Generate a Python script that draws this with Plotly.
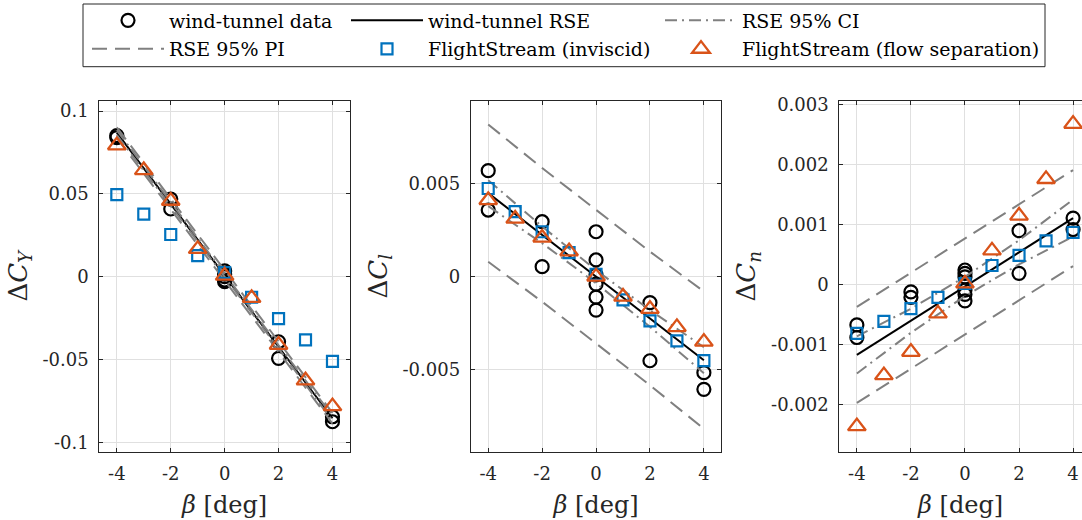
import plotly.graph_objects as go

# ---------------- data ----------------
beta_ticks = [-4, -2, 0, 2, 4]
beta_ticktext = ["-4", "-2", "0", "2", "4"]

# FlightStream sweep
beta_fs = [-4, -3, -2, -1, 0, 1, 2, 3, 4]
# regression curves (RSE, confidence and prediction bands)
beta_rse = [-4, 4]
beta_band = [-4, -2, 0, 2, 4]

# --- side force coefficient ---
wt_beta_cy = [-4, -4, -2, -2, 0, 0, 0, 0, 0, 2, 2, 4, 4]
wt_cy = [0.0852, 0.0840, 0.0469, 0.0409, 0.0035, 0.0015, 0.0, -0.0020, -0.0030,
         -0.0393, -0.0493, -0.0846, -0.0876]
fs_inv_cy = [0.0496, 0.0378, 0.0255, 0.0127, 0.0024, -0.0124, -0.0253, -0.0382, -0.0512]
fs_sep_cy = [0.0793, 0.0643, 0.0458, 0.0167, 0.0006, -0.0129, -0.0412, -0.0627, -0.0783]
rse_cy = [0.0870, -0.0855]
ci_up_cy = [0.0885, 0.0449, 0.0016, -0.0414, -0.0840]
ci_lo_cy = [0.0855, 0.0429, -0.0001, -0.0434, -0.0870]
pi_up_cy = [0.0902, 0.0469, 0.0038, -0.0394, -0.0823]
pi_lo_cy = [0.0838, 0.0409, -0.0023, -0.0454, -0.0887]
ticks_cy = [-0.1, -0.05, 0, 0.05, 0.1]
ticktext_cy = ["-0.1", "-0.05", "0", "0.05", "0.1"]

# --- rolling moment coefficient ---
wt_beta_cl = [-4, -4, -2, -2, 0, 0, 0, 0, 0, 0, 2, 2, 4, 4]
wt_cl = [0.00571, 0.00359, 0.00296, 0.00054, 0.00242, 0.0009, 0.0001, -0.0004,
         -0.0011, -0.0018, -0.0014, -0.00453, -0.00517, -0.00607]
fs_inv_cl = [0.00475, 0.0035, 0.00242, 0.00129, 0.00013, -0.00125, -0.00238, -0.00346, -0.00452]
fs_sep_cl = [0.00412, 0.00312, 0.0021, 0.00136, 0.0, -0.00108, -0.00174, -0.00272, -0.00351]
rse_cl = [0.0045, -0.0045]
ci_up_cl = [0.0052, 0.0027, 0.00035, -0.0018, -0.0038]
ci_lo_cl = [0.0038, 0.0018, -0.00035, -0.0027, -0.0052]
pi_up_cl = [0.0082, 0.00585, 0.0036, 0.00135, -0.0008]
pi_lo_cl = [0.0008, -0.00135, -0.0036, -0.00585, -0.0082]
ticks_cl = [-0.005, 0, 0.005]
ticktext_cl = ["-0.005", "0", "0.005"]

# --- yawing moment coefficient ---
wt_beta_cn = [-4, -4, -2, -2, 0, 0, 0, 0, 0, 0, 2, 2, 4, 4]
wt_cn = [-0.00067, -0.00088, -0.00012, -0.00021, 0.000245, 0.00019, 0.00013, -0.00009,
         -0.00016, -0.00027, 0.0009, 0.00019, 0.00111, 0.00092]
fs_inv_cn = [-0.00081, -0.00061, -0.0004, -0.00021, 0.00002, 0.00032, 0.00049, 0.00073, 0.00087]
fs_sep_cn = [-0.00236, -0.00151, -0.00112, -0.00048, 0.00002, 0.00057, 0.00115, 0.00176, 0.00268]
rse_cn = [-0.00117, 0.00111]
ci_up_cn = [-0.00086, -0.0004, 0.00013, 0.00074, 0.00142]
ci_lo_cn = [-0.00148, -0.0008, -0.00019, 0.00034, 0.0008]
pi_up_cn = [-0.00037, 0.0002, 0.00077, 0.00134, 0.00191]
pi_lo_cn = [-0.00197, -0.0014, -0.00083, -0.00026, 0.00031]
ticks_cn = [-0.002, -0.001, 0, 0.001, 0.002, 0.003]
ticktext_cn = ["-0.002", "-0.001", "0", "0.001", "0.002", "0.003"]

# ---------------- styling ----------------
W, H = 1082, 520
SERIF = "DejaVu Serif"
AX = "#262626"
GRID = "#e0e0e0"
GRAY = "#808080"
BLUE = "#0072BD"
ORANGE = "#D95319"
PI_DASH = "15px,8px"
CI_DASH = "12px,5px,2px,5px"

fig = go.Figure()

panels = [
    dict(wb=wt_beta_cy, wt=wt_cy, inv=fs_inv_cy, sep=fs_sep_cy, rse=rse_cy,
         ciu=ci_up_cy, cil=ci_lo_cy, piu=pi_up_cy, pil=pi_lo_cy),
    dict(wb=wt_beta_cl, wt=wt_cl, inv=fs_inv_cl, sep=fs_sep_cl, rse=rse_cl,
         ciu=ci_up_cl, cil=ci_lo_cl, piu=pi_up_cl, pil=pi_lo_cl),
    dict(wb=wt_beta_cn, wt=wt_cn, inv=fs_inv_cn, sep=fs_sep_cn, rse=rse_cn,
         ciu=ci_up_cn, cil=ci_lo_cn, piu=pi_up_cn, pil=pi_lo_cn),
]

for i, p in enumerate(panels):
    xa = "x" if i == 0 else f"x{i+1}"
    ya = "y" if i == 0 else f"y{i+1}"
    first = i == 0
    fig.add_trace(go.Scatter(
        x=p["wb"], y=p["wt"], mode="markers", name="wind-tunnel data",
        marker=dict(symbol="circle-open", size=13, color="black", line=dict(width=2.2)),
        xaxis=xa, yaxis=ya, showlegend=first, legend="legend"))
    fig.add_trace(go.Scatter(
        x=beta_rse, y=p["rse"], mode="lines", name="wind-tunnel RSE",
        line=dict(color="black", width=2),
        xaxis=xa, yaxis=ya, showlegend=first, legend="legend2"))
    for k, key in enumerate(["ciu", "cil"]):
        fig.add_trace(go.Scatter(
            x=beta_band, y=p[key], mode="lines", name="RSE 95% CI",
            line=dict(color=GRAY, width=2, dash=CI_DASH),
            xaxis=xa, yaxis=ya, showlegend=first and k == 0, legend="legend3"))
    for k, key in enumerate(["piu", "pil"]):
        fig.add_trace(go.Scatter(
            x=beta_band, y=p[key], mode="lines", name="RSE 95% PI",
            line=dict(color=GRAY, width=2, dash=PI_DASH),
            xaxis=xa, yaxis=ya, showlegend=first and k == 0, legend="legend4"))
    fig.add_trace(go.Scatter(
        x=beta_fs, y=p["inv"], mode="markers", name="FlightStream (inviscid)",
        marker=dict(symbol="square-open", size=11, color=BLUE, line=dict(width=2.2)),
        xaxis=xa, yaxis=ya, showlegend=first, legend="legend5"))
    fig.add_trace(go.Scatter(
        x=beta_fs, y=p["sep"], mode="markers", name="FlightStream (flow separation)",
        marker=dict(symbol="triangle-up-open", size=15.5, color=ORANGE, line=dict(width=2.3)),
        xaxis=xa, yaxis=ya, showlegend=first, legend="legend6"))

# ---------------- axes ----------------
def px_x(v):
    return v / W

def px_y(v):
    return 1 - v / H

ydom = [px_y(451.7), px_y(100.7)]
xdoms = [[px_x(99.3), px_x(350.0)], [px_x(470.7), px_x(721.4)], [px_x(839.3), 1.0]]
xranges = [[-4.65, 4.65], [-4.65, 4.65], [-4.65, 4.33]]
yranges = [[-0.1057, 0.1063], [-0.00943, 0.00948], [-0.002783, 0.003067]]
yticks = [(ticks_cy, ticktext_cy), (ticks_cl, ticktext_cl), (ticks_cn, ticktext_cn)]
ytitles = ["Δ<i>C</i><sub><i>Y</i></sub>", "Δ<i>C</i><sub><i>l</i></sub>", "Δ<i>C</i><sub><i>n</i></sub>"]

common = dict(showgrid=True, gridcolor=GRID, gridwidth=1, zeroline=False,
              showline=True, linecolor=AX, linewidth=1, ticks="inside", ticklen=4,
              tickcolor=AX, tickfont=dict(family=SERIF, size=18, color=AX),
              automargin=False)

for i in range(3):
    sx = "" if i == 0 else str(i + 1)
    fig.layout["xaxis" + sx] = dict(
        common, domain=xdoms[i], range=xranges[i], anchor="y" + sx,
        tickmode="array", tickvals=beta_ticks, ticktext=beta_ticktext,
        mirror="ticks", ticklabelstandoff=6,
        title=dict(text="<i>β</i> [deg]", font=dict(family=SERIF, size=24, color=AX),
                   standoff=12))
    fig.layout["yaxis" + sx] = dict(
        common, domain=ydom, range=yranges[i], anchor="x" + sx,
        tickmode="array", tickvals=yticks[i][0], ticktext=yticks[i][1],
        mirror="ticks" if i < 2 else False, ticklabelstandoff=6,
        title=dict(text=ytitles[i], font=dict(family=SERIF, size=26, color=AX),
                   standoff=7))

# ---------------- legend ----------------
legend_pos = {
    "legend": (87, 20.5), "legend2": (346, 20.5), "legend3": (660, 20.5),
    "legend4": (87, 49), "legend5": (346, 49), "legend6": (660, 49),
}
for name, (lx, ly) in legend_pos.items():
    fig.layout[name] = dict(
        x=px_x(lx), y=px_y(ly), xanchor="left", yanchor="middle",
        bgcolor="rgba(0,0,0,0)", borderwidth=0, itemwidth=72,
        font=dict(family=SERIF, size=19, color="black"))

fig.add_shape(type="rect", xref="paper", yref="paper",
              x0=px_x(83), x1=px_x(1045), y0=px_y(66.7), y1=px_y(4),
              line=dict(color=AX, width=1), fillcolor="rgba(0,0,0,0)")

fig.update_layout(
    width=W, height=H, margin=dict(l=0, r=0, t=0, b=0),
    paper_bgcolor="white", plot_bgcolor="white",
    font=dict(family=SERIF, color=AX),
)

fig.write_html("out.html")
